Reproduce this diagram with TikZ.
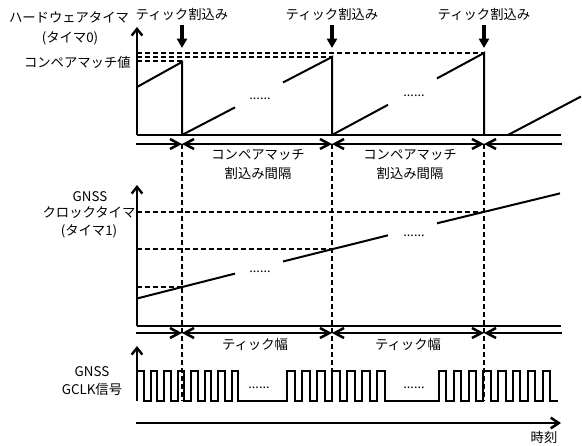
\documentclass[tikz,border=0pt]{standalone}
\usepackage{fontspec}
\setmainfont{Noto Sans CJK JP}
\usetikzlibrary{arrows.meta}
\tikzset{dimtip/.tip={Straight Barb[length=7pt,width=7.5pt]}}
\begin{document}
\begin{tikzpicture}[x=0.75pt,y=-0.75pt,
  lbl/.style={font=\fontsize{10}{12}\selectfont, inner sep=0pt},
  dots/.style={font=\fontsize{9.5}{10}\selectfont, inner sep=0pt},
  axisline/.style={line width=1.8pt, -{Straight Barb[length=5pt,width=8pt]}},
  baseline/.style={line width=1.3pt},
  dimline/.style={line width=1.9pt},
  guide/.style={line width=1.6pt, dash pattern=on 4pt off 2pt},
  ramp/.style={line width=1.5pt},
  tickarrow/.style={line width=2.4pt, -{Triangle[length=7pt,width=7.5pt]}},
  pulse/.style={line width=1.5pt, line join=miter}]
\useasboundingbox (0,0) rectangle (582,446);

% ---------- top: hardware timer ----------
\node[lbl] (hw1) at (69,17) {ハードウェアタイマ};
\node[lbl] (hw2) at (70,38) {(タイマ0)};
\node[lbl, anchor=east] (cmp) at (131,62) {コンペアマッチ値};

\node[lbl] (ti1) at (182,14) {ティック割込み};
\node[lbl] (ti2) at (332,14) {ティック割込み};
\node[lbl] (ti3) at (484,14) {ティック割込み};
\coordinate (ts1) at (182,25);
\coordinate (ts2) at (332,25);
\coordinate (ts3) at (484,25);
\coordinate (ta1) at (182,48);
\coordinate (ta2) at (332,48);
\coordinate (ta3) at (484,48);
\draw[tickarrow] (ts1) -- (ta1);
\draw[tickarrow] (ts2) -- (ta2);
\draw[tickarrow] (ts3) -- (ta3);

% axes
\coordinate (o0) at (137,135);
\coordinate (y0) at (137,27);
\coordinate (x0) at (561,135);
\draw[axisline] (o0) -- (y0);
\draw[baseline] (o0) -- (x0);

% compare-match levels
\draw[guide] (137,53) -- (484,53);
\draw[guide] (137,57) -- (332,57);
\draw[guide] (137,61) -- (182,61);

% saw-tooth counter
\draw[ramp] (137,87) -- (182,62) -- (182,135);
\draw[ramp] (182,135) -- (235,107.4);
\draw[ramp] (283,82.5) -- (332,57) -- (332,135);
\draw[ramp] (332,135) -- (388,104.8);
\draw[ramp] (437,78.4) -- (484,53) -- (484,135);
\draw[ramp] (508,135) -- (581,96.5);
\node[dots] (d1) at (260,99) {......};
\node[dots] (d2) at (414,96) {......};

% interval dimension line
\coordinate (a0) at (136,144);
\coordinate (a1) at (182,144);
\coordinate (a2) at (332,144);
\coordinate (a3) at (484,144);
\coordinate (a4) at (562,144);
\draw[dimline, -{dimtip}] (a0) -- (a1);
\draw[dimline, {dimtip}-{dimtip}] (a1) -- (a2);
\draw[dimline, {dimtip}-{dimtip}] (a2) -- (a3);
\draw[dimline, {dimtip}-] (a3) -- (a4);

\node[lbl] (i1a) at (258,155) {コンペアマッチ};
\node[lbl] (i1b) at (258,173) {割込み間隔};
\node[lbl] (i2a) at (410,155) {コンペアマッチ};
\node[lbl] (i2b) at (410,173) {割込み間隔};

% vertical dashed tick guides
\coordinate (e1) at (182,401);
\coordinate (e2) at (332,401);
\coordinate (e3) at (484,401);
\draw[guide] (a1) -- (e1);
\draw[guide] (a2) -- (e2);
\draw[guide] (a3) -- (e3);

% ---------- middle: GNSS clock timer ----------
\node[lbl] (g1) at (90,197) {GNSS};
\node[lbl] (g2) at (89,213) {クロックタイマ};
\node[lbl] (g3) at (89,231) {(タイマ1)};

\coordinate (o1) at (137,326);
\coordinate (y1) at (137,185);
\coordinate (x1) at (561,326);
\draw[axisline] (o1) -- (y1);
\draw[baseline] (o1) -- (x1);

\draw[guide] (137,212) -- (484,212);
\draw[guide] (137,249) -- (332,249);
\draw[guide] (137,287) -- (182,287);

\draw[ramp] (137,298.5) -- (235,273.6);
\draw[ramp] (283,261.5) -- (388,235.3);
\draw[ramp] (437,223.3) -- (560,193.4);
\node[dots] (d3) at (260,272) {......};
\node[dots] (d4) at (414,236) {......};

\coordinate (b0) at (136,333);
\coordinate (b1) at (182,333);
\coordinate (b2) at (332,333);
\coordinate (b3) at (484,333);
\coordinate (b4) at (562,333);
\draw[dimline, -{dimtip}] (b0) -- (b1);
\draw[dimline, {dimtip}-{dimtip}] (b1) -- (b2);
\draw[dimline, {dimtip}-{dimtip}] (b2) -- (b3);
\draw[dimline, {dimtip}-] (b3) -- (b4);

\node[lbl] (w1) at (255,344) {ティック幅};
\node[lbl] (w2) at (408,344) {ティック幅};

% ---------- bottom: GCLK signal ----------
\node[lbl] (c1) at (92,372) {GNSS};
\node[lbl] (c2) at (92,389) {GCLK信号};

\coordinate (o2) at (137,401);
\coordinate (y2) at (137,346);
\draw[axisline] (o2) -- (y2);

\draw[pulse] (137,401)
  foreach \x in {137,150.5,164,177.5,191,204.5,218,231.5} { -- (\x,401) -- (\x,371) -- ({\x+6.75},371) -- ({\x+6.75},401) }
  foreach \x in {287,302,317,332,347,362,377} { -- (\x,401) -- (\x,371) -- ({\x+7.5},371) -- ({\x+7.5},401) }
  foreach \x in {439,453.8,468.6,483.4,498.2,513,527.8,542.6} { -- (\x,401) -- (\x,371) -- ({\x+7.4},371) -- ({\x+7.4},401) }
  -- (558,401);
\node[dots] (d5) at (259,388) {......};
\node[dots] (d6) at (414,388) {......};

% time axis
\coordinate (tA) at (136,423);
\coordinate (tB) at (561,423);
\draw[dimline, -{Straight Barb[length=6pt,width=8pt]}] (tA) -- (tB);
\node[lbl] (time) at (544,437) {時刻};
\end{tikzpicture}
\end{document}
